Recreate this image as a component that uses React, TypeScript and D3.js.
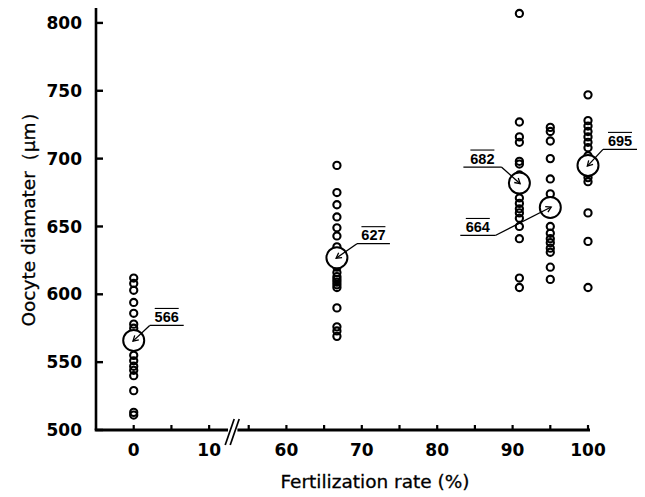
import React from "react";
import * as d3 from "d3";

// ---- data ----
const groupRates = [0, 66.7, 90.9, 95, 100];
const groupMeans = [566, 627, 682, 664, 695];
const diam0 = [612, 608, 603, 594, 586, 578, 575, 570, 562, 555, 551, 547, 544, 540, 529, 513, 511];
const diam67 = [695, 675, 666, 657, 649, 643, 635, 630, 620, 616, 613, 611, 609, 607, 605, 590, 576, 573, 569];
const diam91 = [807, 727, 716, 712, 698, 696, 688, 678, 671, 667, 663, 660, 656, 650, 641, 612, 605];
const diam95 = [723, 720, 713, 700, 685, 674, 668, 660, 650, 645, 641, 638, 634, 631, 620, 611];
const diam100 = [747, 728, 724, 720, 716, 712, 708, 702, 695, 689, 686, 683, 660, 639, 605];
const groupValues = [diam0, diam67, diam91, diam95, diam100];
const xTicks = [0, 5, 10, 55, 60, 65, 70, 75, 80, 85, 90, 95, 100];
const xTickLabels = ["0", "10", "60", "70", "80", "90", "100"];
const yTicks = [500, 550, 600, 650, 700, 750, 800];

// label layout (pixel offsets of underline anchor relative to mean marker)
const labelLayout = [
  { dx: 16, dy: -15, len: 34, side: 1 },
  { dx: 20, dy: -14, len: 33, side: 1 },
  { dx: -18, dy: -16, len: 38, side: -1 },
  { dx: -55, dy: 28, len: 35, side: -1 },
  { dx: 15, dy: -16, len: 34, side: 1 },
];

const W = 645;
const H = 497;
const x = d3.scaleLinear().domain([-5, 12.5, 53.5, 100]).range([96, 228, 237.4, 588]);
const y = d3.scaleLinear().domain([500, 811]).range([430, 8]);

const tickFont = "'DejaVu Sans', sans-serif";
const labFont = "'Liberation Sans', Arial, sans-serif";

export default function App() {
  const x0 = x(-5);
  const yBase = y(500);
  const breakL = x(12.5);
  const breakR = x(53.5);
  return (
    <svg width={W} height={H} style={{ position: "absolute", left: 0, top: 0, background: "#fff" }}>
      {/* axes */}
      <line x1={x0} x2={x0} y1={y(811)} y2={yBase} stroke="#000" strokeWidth={2.6} />
      <line x1={x0 - 1.3} x2={breakL} y1={yBase} y2={yBase} stroke="#000" strokeWidth={2.8} />
      <line x1={breakR} x2={x(100) + 2} y1={yBase} y2={yBase} stroke="#000" strokeWidth={2.8} />
      {[0, 1].map((i) => {
        const cx = (breakL + breakR) / 2 - 3 + i * 5;
        return (
          <line key={"br" + i} x1={cx - 4.5} y1={yBase + 15} x2={cx + 4.5} y2={yBase - 11} stroke="#000" strokeWidth={1.7} />
        );
      })}
      {yTicks.map((t) => (
        <g key={"yt" + t}>
          <line x1={x0} x2={x0 + 7} y1={y(t)} y2={y(t)} stroke="#000" strokeWidth={2.4} />
          <text x={x0 - 14} y={y(t)} dy="0.36em" textAnchor="end" fontFamily={tickFont} fontWeight="bold" fontSize={17}>
            {t}
          </text>
        </g>
      ))}
      {xTicks.map((t) => (
        <line key={"xt" + t} x1={x(t)} x2={x(t)} y1={yBase} y2={yBase - 5} stroke="#000" strokeWidth={2.2} />
      ))}
      {xTickLabels.map((t) => (
        <text key={"xl" + t} x={x(+t)} y={456} textAnchor="middle" fontFamily={tickFont} fontWeight="bold" fontSize={17}>
          {t}
        </text>
      ))}
      <text x={375} y={488} textAnchor="middle" fontFamily={tickFont} fontSize={18.5} stroke="#000" strokeWidth={0.3}>
        Fertilization rate (%)
      </text>
      <text
        transform={`translate(35, 215) rotate(-90)`}
        textAnchor="middle"
        fontFamily={tickFont}
        fontSize={18.5}
        stroke="#000"
        strokeWidth={0.3}
      >
        Oocyte diamater（μm）
      </text>

      {/* points */}
      {groupValues.map((vals, gi) =>
        vals.map((v, i) => (
          <circle key={`p${gi}-${i}`} cx={x(groupRates[gi])} cy={y(v)} r={3.6} fill="none" stroke="#000" strokeWidth={2.1} />
        ))
      )}

      {/* means with labels */}
      {groupMeans.map((m, gi) => {
        const cx = x(groupRates[gi]);
        const cy = y(m);
        const L = labelLayout[gi];
        const ax = cx + L.dx;
        const ay = cy + L.dy;
        const ex = ax + L.side * L.len;
        const tx = (ax + ex) / 2;
        const ddx = cx - ax;
        const ddy = cy - ay;
        const dl = Math.hypot(ddx, ddy);
        const ux = ddx / dl;
        const uy = ddy / dl;
        const tipX = cx + ux * 1;
        const tipY = cy + uy * 1;
        const ah = 6;
        const ang = Math.PI / 6;
        const back = Math.atan2(-uy, -ux);
        const h1 = [tipX + ah * Math.cos(back + ang), tipY + ah * Math.sin(back + ang)];
        const h2 = [tipX + ah * Math.cos(back - ang), tipY + ah * Math.sin(back - ang)];
        return (
          <g key={"m" + gi}>
            <circle cx={cx} cy={cy} r={10.5} fill="#fff" stroke="#000" strokeWidth={2} />
            <line x1={ax} y1={ay} x2={tipX} y2={tipY} stroke="#000" strokeWidth={1.3} />
            <polyline points={`${h1[0]},${h1[1]} ${tipX},${tipY} ${h2[0]},${h2[1]}`} fill="none" stroke="#000" strokeWidth={1.3} />
            <line x1={ax} y1={ay} x2={ex} y2={ay} stroke="#000" strokeWidth={1.3} />
            <text x={tx} y={ay - 3.5} textAnchor="middle" fontFamily={labFont} fontWeight="bold" fontSize={14.5}>
              {m}
            </text>
            <line x1={tx - 12} x2={tx + 12} y1={ay - 17} y2={ay - 17} stroke="#000" strokeWidth={1.1} />
          </g>
        );
      })}
    </svg>
  );
}
